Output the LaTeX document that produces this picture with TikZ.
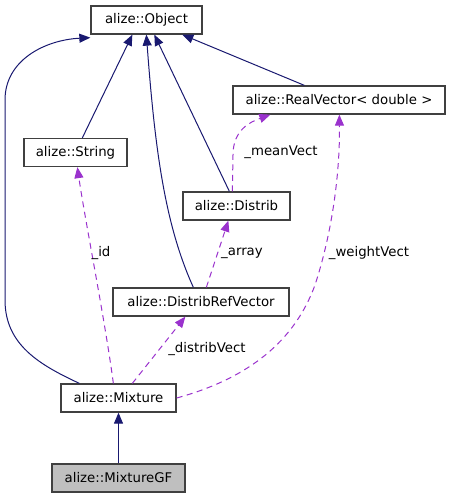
\documentclass[tikz,border=0pt]{standalone}
\usepackage{fontspec}
\setmainfont{DejaVu Sans}
\usetikzlibrary{arrows.meta}
\definecolor{edgeblue}{HTML}{191970}
\definecolor{edgepurple}{HTML}{9A32CD}
\definecolor{nodegray}{HTML}{BFBFBF}
\begin{document}
\begin{tikzpicture}[x=1pt,y=-1pt,
  cls/.style={draw=black!75,line width=1.3pt,fill=white,inner sep=0pt,minimum height=28pt,font=\fontsize{13.3}{16}\selectfont},
  inh/.style={draw=edgeblue,line width=1pt,-{Triangle[length=11pt,width=9pt]}},
  use/.style={draw=edgepurple,line width=1pt,dash pattern=on 6pt off 4.5pt,-{Triangle[length=11pt,width=9pt]}},
  lbl/.style={font=\fontsize{13.3}{16}\selectfont,inner sep=0pt}]
\useasboundingbox (0,0) rectangle (451,499);
\node[cls,minimum width=111pt] (obj) at (146.5,20) {alize::Object};
\node[cls,minimum width=212pt] (rv) at (339,100) {alize::RealVector< double >};
\node[cls,minimum width=103pt] (str) at (75.5,152.5) {alize::String};
\node[cls,minimum width=107pt] (dis) at (236.5,206) {alize::Distrib};
\node[cls,minimum width=176pt] (drv) at (201,302) {alize::DistribRefVector};
\node[cls,minimum width=115pt] (mix) at (118.5,398) {alize::Mixture};
\node[cls,minimum width=133pt,fill=nodegray] (mgf) at (118.5,478) {alize::MixtureGF};

% inheritance
\draw[inh] (mgf.north) -- (mix.south);
\draw[inh] ([xshift=19pt]mix.north west) .. controls (40,365) and (5,345) .. (5,300) -- (5,100) .. controls (5,60) and (45,40) .. ([yshift=-3pt]obj.south west);
\draw[inh] ([xshift=59pt]str.north west) -- ([xshift=42pt]obj.south west);
\draw[inh] ([xshift=81pt]drv.north west) .. controls (165,225) and (155,150) .. ([xshift=56pt]obj.south west);
\draw[inh] ([xshift=47pt]dis.north west) -- ([xshift=64pt]obj.south west);
\draw[inh] ([xshift=72pt]rv.north west) -- ([xshift=92pt]obj.south west);

% usage
\draw[use] ([xshift=53pt]mix.north west) .. controls (105,320) and (85,220) .. ([xshift=54pt]str.south west);
\draw[use] ([xshift=72pt]mix.north west) -- ([xshift=73pt]drv.south west);
\draw[use] (mix.east) .. controls (250,378) and (295,340) .. (315,285) .. controls (333,230) and (340,170) .. ([xshift=107pt]rv.south west);
\draw[use] ([xshift=94pt]drv.north west) -- ([xshift=46pt]dis.south west);
\draw[use] ([xshift=50pt]dis.north west) -- (233,155) .. controls (233,130) and (250,122) .. ([xshift=38pt]rv.south west);

% labels
\node[lbl] (l1) at (281,152) {\_meanVect};
\node[lbl] (l2) at (101,253) {\_id};
\node[lbl] (l3) at (242,253) {\_array};
\node[lbl] (l4) at (369,253) {\_weightVect};
\node[lbl] (l5) at (207,349) {\_distribVect};
\end{tikzpicture}
\end{document}
